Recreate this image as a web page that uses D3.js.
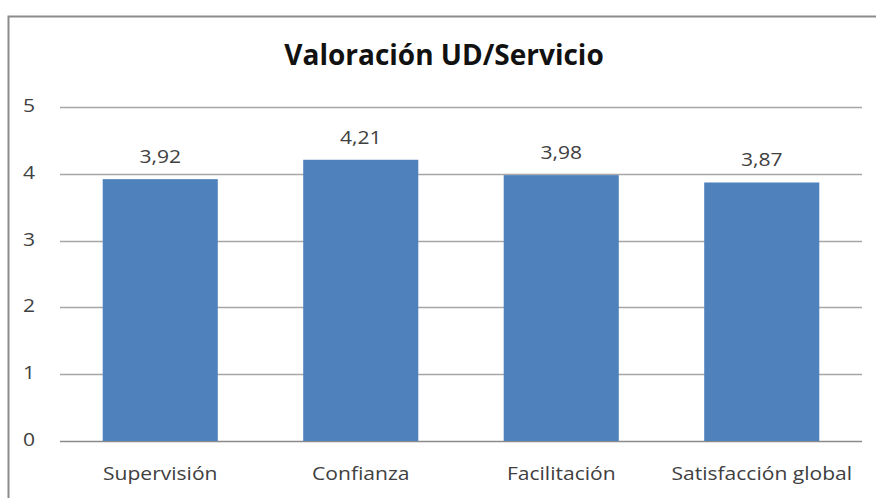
<!DOCTYPE html>
<html><head><meta charset="utf-8">
<script src="https://cdn.jsdelivr.net/npm/d3@7"></script>
<style>body{margin:0;background:#fff}svg{display:block}</style>
</head><body>
<svg id="c" width="876" height="498"></svg>
<script>
const categories = ["Supervisión", "Confianza", "Facilitación", "Satisfacción global"];
const values = [3.92, 4.21, 3.98, 3.87];
const valueLabels = ["3,92", "4,21", "3,98", "3,87"];
const yTicks = [0, 1, 2, 3, 4, 5];
const title = "Valoración UD/Servicio";

const svg = d3.select("#c");
const font = "'Open Sans', sans-serif";
const sx = 1.17;
svg.append("path").attr("d", "M8.5,498 V16.5 H876").attr("fill", "none").attr("stroke", "#8c8c8c").attr("stroke-width", 2);

const x = d3.scaleBand().domain(categories).range([60, 862]).paddingInner(0.426).paddingOuter(0.213);
const y = d3.scaleLinear().domain([0, 5]).range([441, 107]);

svg.append("g").selectAll("line").data(yTicks).join("line")
  .attr("x1", 60).attr("x2", 862)
  .attr("y1", d => Math.round(y(d)) + 0.5).attr("y2", d => Math.round(y(d)) + 0.5)
  .attr("stroke", d => d === 0 ? "#8a8a8a" : "#a6a6a6").attr("stroke-width", 1.5);

function label(g, data, fx, fy, txt) {
  g.selectAll("text").data(data).join("text")
    .attr("transform", (d, i) => `translate(${fx(d, i)},${fy(d, i)}) scale(${sx},1)`)
    .attr("text-anchor", "middle").attr("font-family", font).attr("font-size", 18).attr("fill", "#404040")
    .text(txt);
}

label(svg.append("g"), yTicks, () => 29, d => y(d) + 5, d => d);

svg.append("g").selectAll("rect").data(values).join("rect")
  .attr("x", (d, i) => x(categories[i])).attr("width", x.bandwidth())
  .attr("y", d => y(d)).attr("height", d => y(0) - y(d))
  .attr("fill", "#4f81bd");

label(svg.append("g"), values, (d, i) => x(categories[i]) + x.bandwidth() / 2, d => y(d) - 16, (d, i) => valueLabels[i]);

label(svg.append("g"), categories, d => x(d) + x.bandwidth() / 2, () => 480, d => d);

svg.append("text").attr("x", 444).attr("y", 65).attr("text-anchor", "middle")
  .attr("font-family", font).attr("font-weight", "bold").attr("font-size", 28).attr("fill", "#111")
  .text(title);
</script>
</body></html>
